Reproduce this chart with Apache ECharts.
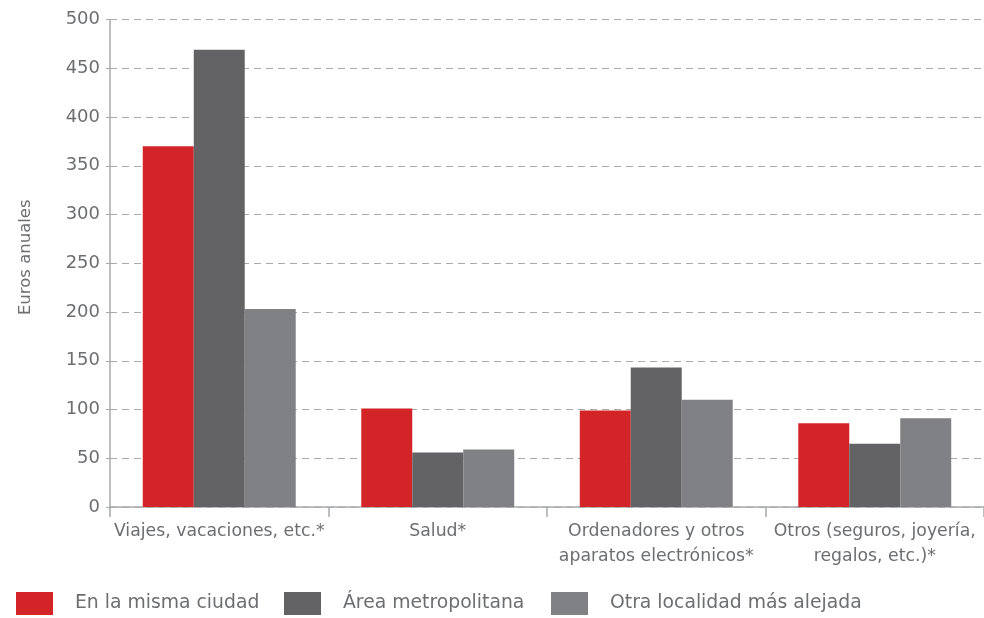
<!DOCTYPE html>
<html>
<head>
<meta charset="utf-8">
<script src="https://cdn.jsdelivr.net/npm/echarts@6/dist/echarts.min.js"></script>
<style>html,body{margin:0;padding:0;background:#fff}#c{width:984px;height:618px}</style>
</head>
<body>
<div id="c"></div>
<script>
const categories = ["Viajes, vacaciones, etc.*", "Salud*", "Ordenadores y otros\naparatos electrónicos*", "Otros (seguros, joyería,\nregalos, etc.)*"];
const seriesNames = ["En la misma ciudad", "Área metropolitana", "Otra localidad más alejada"];
const mismaCiudad = [370, 101, 99, 86];
const areaMetropolitana = [469, 56, 143, 65];
const otraLocalidad = [203, 59, 110, 91];
const yTicks = [0, 50, 100, 150, 200, 250, 300, 350, 400, 450, 500];

const colors = ["#d32428", "#636365", "#808184"];
const font = "DejaVu Sans";
const textColor = "#6d6e70";
const values = [mismaCiudad, areaMetropolitana, otraLocalidad];
const legendLeft = [16, 284, 551];

const chart = echarts.init(document.getElementById('c'));
chart.setOption({
  animation: false,
  textStyle: { fontFamily: font },
  grid: { left: 110, top: 19.5, width: 880, bottom: 111, containLabel: false },
  legend: seriesNames.map((n, i) => ({
    data: [n], left: legendLeft[i], top: 592, padding: 0, itemWidth: 37, itemHeight: 23, itemGap: 20,
    icon: 'rect',
    textStyle: { fontFamily: font, fontSize: 18.8, color: textColor, padding: [6, 0, 0, 17] }
  })),
  xAxis: {
    type: 'category', data: categories,
    axisLine: { lineStyle: { color: '#a7a9ac', width: 1.5 } },
    axisTick: { show: true, length: 10, interval: 0, lineStyle: { color: '#a7a9ac', width: 1.5 } },
    axisLabel: { interval: 0, fontFamily: font, fontSize: 17.3, color: textColor, lineHeight: 25, margin: 12 }
  },
  yAxis: {
    type: 'value', min: 0, max: 500, interval: 50,
    name: 'Euros anuales', nameLocation: 'middle', nameGap: 76,
    nameTextStyle: { fontFamily: font, fontSize: 16.5, color: textColor, padding: [0, 0, 0, 12] },
    axisLine: { show: true, lineStyle: { color: '#a7a9ac', width: 1.5 } },
    axisTick: { show: true, length: 4, lineStyle: { color: '#a7a9ac' } },
    axisLabel: { fontFamily: font, fontSize: 18, color: textColor, margin: 10,
      formatter: v => yTicks.includes(v) ? String(v) : '' },
    splitLine: { show: true, lineStyle: { color: '#aaaaaa', type: [7, 5], width: 1.2 } }
  },
  series: seriesNames.map((n, i) => ({
    name: n, type: 'bar', data: values[i], barGap: '0%', barCategoryGap: '30%',
    itemStyle: { color: colors[i] }
  }))
});
</script>
</body>
</html>
